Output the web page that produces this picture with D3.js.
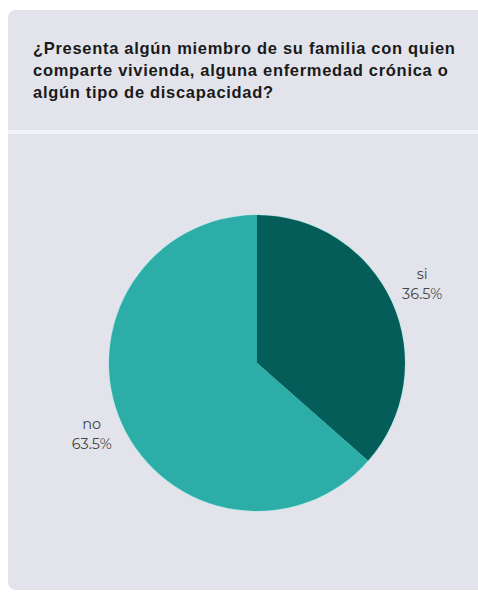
<!DOCTYPE html>
<html>
<head>
<meta charset="utf-8">
<script src="https://cdn.jsdelivr.net/npm/d3@7"></script>
<style>
  html, body { margin: 0; padding: 0; background: #ffffff; }
  svg { display: block; }
</style>
</head>
<body>
<svg id="chart" width="478" height="592"></svg>
<script>
// Survey answers and their shares (percent)
const categories = ["si", "no"];
const values = [36.5, 63.5];
const sliceColors = ["#045d59", "#2cada7"];
const titleLines = [
  "¿Presenta algún miembro de su familia con quien",
  "comparte vivienda, alguna enfermedad crónica o",
  "algún tipo de discapacidad?"
];

const svg = d3.select("#chart");

// Card: header band + body, separated by a light line
const card = { x: 8, y: 10, w: 480, h: 580 };
svg.append("rect")
  .attr("x", card.x).attr("y", card.y)
  .attr("width", card.w).attr("height", card.h)
  .attr("rx", 8).attr("fill", "#e3e4eb");
svg.append("rect")
  .attr("x", card.x).attr("y", 130)
  .attr("width", card.w).attr("height", 4)
  .attr("fill", "#f3f4f7");

// Title
const title = svg.append("text")
  .attr("font-family", "Liberation Sans, Arial, sans-serif")
  .attr("font-weight", "bold")
  .attr("font-size", 16.5)
  .attr("letter-spacing", 0.7)
  .attr("fill", "#1a1a1a");
titleLines.forEach((t, i) => {
  title.append("tspan").attr("x", 33).attr("y", 54 + i * 22).text(t);
});

// Pie, starting at 12 o'clock and running clockwise
const cx = 257, cy = 363, r = 148;
const data = categories.map((c, i) => ({ label: c, value: values[i], color: sliceColors[i] }));
const pie = d3.pie().value(d => d.value).sort(null);
const arcs = pie(data);
const arc = d3.arc().innerRadius(0).outerRadius(r);
const labelArc = d3.arc().innerRadius(r * 1.225).outerRadius(r * 1.225);

const g = svg.append("g").attr("transform", `translate(${cx},${cy})`);
g.append("circle").attr("r", r + 0.8).attr("fill", "#b8e6e6");
g.selectAll("path.slice")
  .data(arcs)
  .join("path")
  .attr("class", "slice")
  .attr("d", arc)
  .attr("fill", d => d.data.color);

// Outside labels: category name above its percentage
const fmt = d3.format(".1f");
const labels = g.selectAll("text.lbl")
  .data(arcs)
  .join("text")
  .attr("class", "lbl")
  .attr("transform", d => `translate(${labelArc.centroid(d)})`)
  .attr("text-anchor", "middle")
  .attr("font-family", "Montserrat, 'Open Sans', sans-serif")
  .attr("font-size", 14.5)
  .attr("fill", "#454545");
labels.append("tspan").attr("x", 0).attr("y", -9).text(d => d.data.label);
labels.append("tspan").attr("x", 0).attr("y", 11).text(d => fmt(d.data.value) + "%");
</script>
</body>
</html>
